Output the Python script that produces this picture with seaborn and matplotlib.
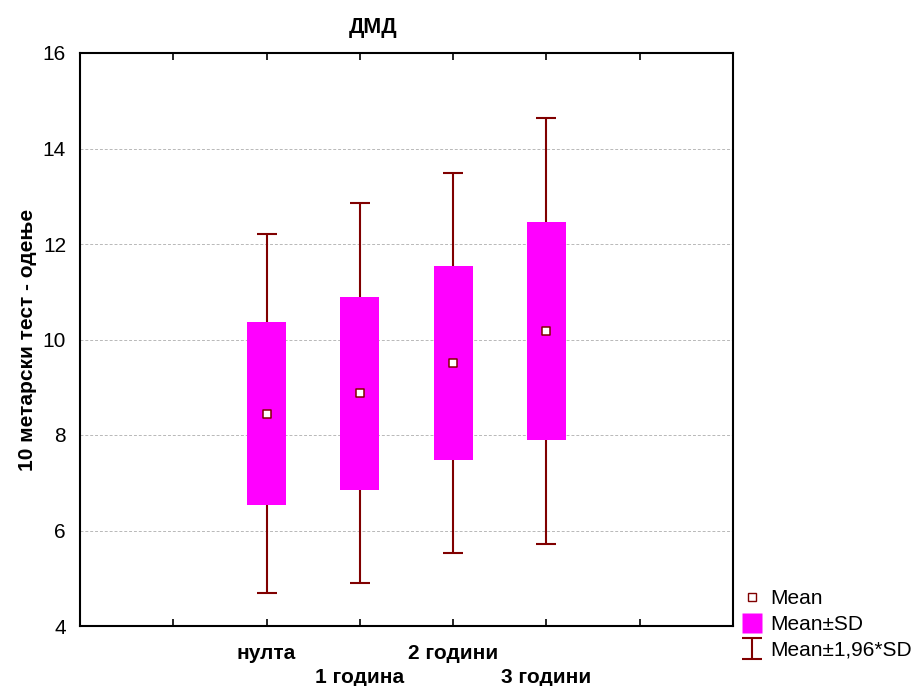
import matplotlib
matplotlib.use("Agg")
import matplotlib.pyplot as plt
from matplotlib.lines import Line2D
import seaborn as sns
import numpy as np
import pandas as pd

categories = ["нулта", "1 година", "2 години", "3 години"]
means = [8.45, 8.87, 9.50, 10.18]
sds = [1.92, 2.03, 2.03, 2.28]
y_ticks = [4, 6, 8, 10, 12, 14, 16]

title = "ДМД"
y_label = "10 метарски тест - одење"

sns.set_theme(style="white")
plt.rcParams["font.family"] = ["Liberation Sans", "DejaVu Sans"]
plt.rcParams["text.color"] = "black"
plt.rcParams["axes.labelcolor"] = "black"
plt.rcParams["xtick.color"] = "black"
plt.rcParams["ytick.color"] = "black"

df = pd.DataFrame({"category": categories, "mean": means, "sd": sds})
df["pos"] = np.arange(len(df))
df["lo"] = df["mean"] - df["sd"]
df["ci"] = 1.96 * df["sd"]

box_color = "#ff00ff"
whisker_color = "#800000"

fig = plt.figure(figsize=(9.14, 6.86), dpi=100)
ax = fig.add_axes([80 / 914, 1 - 626 / 686, (733 - 80) / 914, (626 - 53) / 686])

# whiskers: mean ± 1.96*SD
eb = ax.errorbar(df["pos"], df["mean"], yerr=df["ci"], fmt="none",
                 ecolor=whisker_color, elinewidth=1.5, capsize=7,
                 capthick=1.5, zorder=2, label="Mean±1,96*SD")

# boxes: mean ± SD
ax.bar(df["pos"], 2 * df["sd"], bottom=df["lo"], width=0.42,
       color=box_color, edgecolor="none", zorder=3, label="Mean±SD")

# means
sns.scatterplot(data=df, x="pos", y="mean", marker="s", s=38,
                color="white", edgecolor=whisker_color, linewidth=1.1,
                zorder=4, ax=ax, legend=False)

ax.set_xlim(-2, 5)
ax.set_ylim(4, 16)
ax.set_yticks(y_ticks)
ax.set_yticklabels([str(t) for t in y_ticks], fontsize=15)
ax.set_xticks(np.arange(-1, 5))
xlabels = [""] + [("" if i % 2 == 0 else "\n") + c for i, c in enumerate(categories)] + [""]
ax.set_xticklabels(xlabels, fontsize=15, fontweight="bold", linespacing=1.35)
ax.set_xlabel("")
ax.set_ylabel(y_label, fontsize=15, fontweight="bold", labelpad=4)
fig.text(373 / 914, 1 - 27 / 686, title, fontsize=15.5, fontweight="bold",
         ha="center", va="center")

ax.yaxis.grid(True, color="#b8b8b8", linestyle=(0, (3, 2)), linewidth=0.7)
ax.xaxis.grid(False)
ax.set_axisbelow(True)

for s in ax.spines.values():
    s.set_visible(True)
    s.set_color("black")
    s.set_linewidth(1.5)

ax.tick_params(axis="x", direction="in", length=5, width=1.2, top=True,
               bottom=True, pad=13)
ax.tick_params(axis="y", direction="in", length=0, left=True, right=True,
               pad=10)

mean_handle = Line2D([], [], linestyle="none", marker="s", markersize=5.5,
                     markerfacecolor="white", markeredgecolor=whisker_color,
                     markeredgewidth=1.0)
sd_handle = Line2D([], [], linestyle="none", marker="s", markersize=14.5,
                   markerfacecolor=box_color, markeredgecolor="none")
fig.legend([mean_handle, sd_handle, eb], ["Mean", "Mean±SD", "Mean±1,96*SD"],
           loc="upper left", bbox_to_anchor=(742 / 914, 1 - 589 / 686),
           frameon=False, fontsize=15, handlelength=0.95, handletextpad=0.4,
           labelspacing=0.33, borderaxespad=0, borderpad=0)

fig.savefig("out.png", dpi=100)
